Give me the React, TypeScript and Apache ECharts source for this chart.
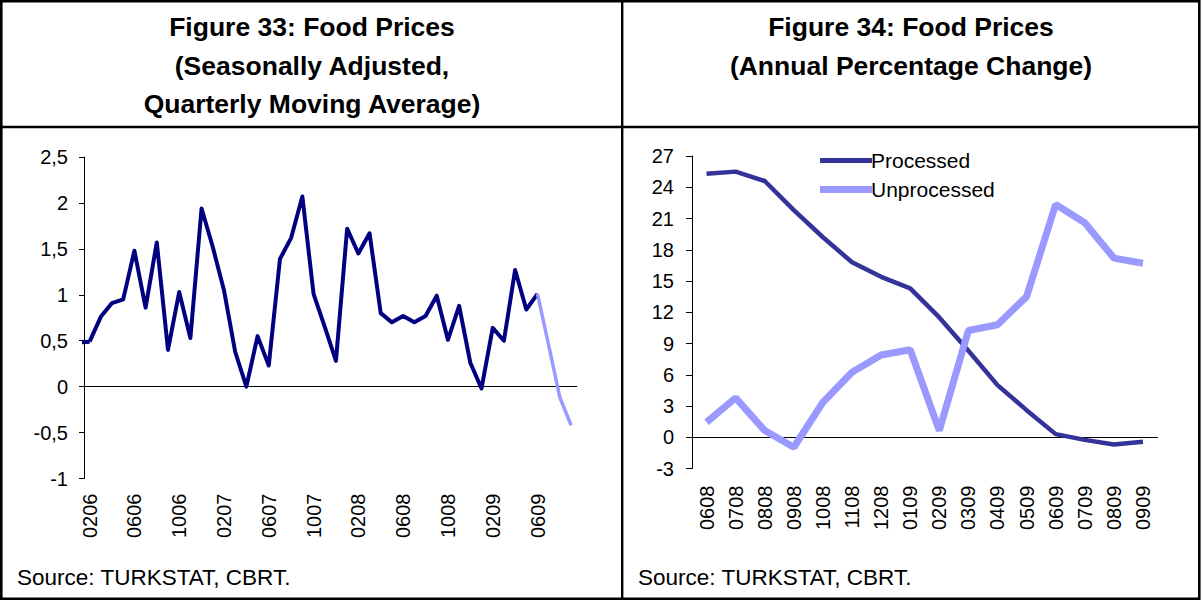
import React, { useEffect, useRef } from "react";
import * as echarts from "echarts";

// ---------- Figure 33 data ----------
const monthLabels = [
  "0206", "0306", "0406", "0506", "0606", "0706", "0806", "0906", "1006", "1106", "1206",
  "0107", "0207", "0307", "0407", "0507", "0607", "0707", "0807", "0907", "1007", "1107", "1207",
  "0108", "0208", "0308", "0408", "0508", "0608", "0708", "0808", "0908", "1008", "1108", "1208",
  "0109", "0209", "0309", "0409", "0509", "0609", "0709", "0809", "0909",
];
// value of the month before the first category (drawn left of the axis, as in the source)
const leadInValue = 0.48;
const seasonallyAdjusted = [
  0.49, 0.76, 0.91, 0.95, 1.48, 0.86, 1.57, 0.40, 1.03, 0.53, 1.94,
  1.52, 1.05, 0.38, 0.0, 0.55, 0.23, 1.39, 1.62, 2.07, 1.01, 0.65, 0.28,
  1.72, 1.45, 1.67, 0.80, 0.70, 0.77, 0.70, 0.77, 0.99, 0.51, 0.88, 0.26,
  -0.02, 0.64, 0.50, 1.27, 0.84, 1.01,
];
const projection = [1.01, 0.45, -0.12, -0.42]; // from 0609 to 0909

// ---------- Figure 34 data ----------
const annualLabels = [
  "0608", "0708", "0808", "0908", "1008", "1108", "1208", "0109",
  "0209", "0309", "0409", "0509", "0609", "0709", "0809", "0909",
];
const processed = [25.3, 25.5, 24.6, 21.8, 19.2, 16.8, 15.4, 14.3, 11.5, 8.3, 5.0, 2.6, 0.3, -0.25, -0.7, -0.43];
const unprocessed = [1.44, 3.78, 0.64, -0.96, 3.36, 6.24, 7.9, 8.4, 0.64, 10.25, 10.8, 13.5, 22.35, 20.6, 17.2, 16.7];

const FONT = "'Liberation Sans', Arial, Helvetica, sans-serif";
const comma = (v: number) => String(v).replace(".", ",");
const comma2 = (v: number) => v.toFixed(2).replace(".", ",");

export default function App() {
  const ref = useRef<HTMLDivElement>(null);

  useEffect(() => {
    if (!ref.current) return;
    const chart = echarts.init(ref.current, undefined, { renderer: "svg" });

    const lightStart = seasonallyAdjusted.length - 1;
    const projData = monthLabels.map((_, i) =>
      i >= lightStart && i - lightStart < projection.length ? projection[i - lightStart] : null
    );

    const lastIdx = annualLabels.length - 1;
    const processedData = processed.map((v, i) =>
      i === lastIdx
        ? { value: v, label: { show: true, position: "bottom", distance: 13, formatter: () => comma2(v) } }
        : v
    );
    const unprocessedData = unprocessed.map((v, i) =>
      i === lastIdx
        ? { value: v, label: { show: true, position: "top", distance: 17, formatter: () => comma2(v) } }
        : v
    );

    const labelStyle = { color: "#000", fontFamily: FONT, fontSize: 20 };
    const legendText = { color: "#000", fontFamily: FONT, fontSize: 21, padding: [0, 0, 0, -6] };

    const option: any = {
      animation: false,
      backgroundColor: "#fff",
      textStyle: { fontFamily: FONT },
      grid: [
        { left: 84, top: 157, width: 492.7, height: 321.5, containLabel: false },
        { left: 692, top: 156, width: 465.5, height: 312.5, containLabel: false },
      ],
      legend: [
        {
          left: 815, top: 145, itemWidth: 52, itemHeight: 5, icon: "rect",
          data: [{ name: "Processed", icon: "rect" }],
          textStyle: legendText,
        },
        {
          left: 815, top: 174, itemWidth: 52, itemHeight: 7, icon: "rect",
          data: [{ name: "Unprocessed", icon: "rect" }],
          textStyle: legendText,
        },
      ],
      xAxis: [
        {
          type: "category", gridIndex: 0, data: monthLabels, boundaryGap: true,
          axisLine: { onZero: true, lineStyle: { color: "#000", width: 1 } },
          axisTick: { interval: 3, length: 5, lineStyle: { color: "#000" } },
          axisLabel: { show: false },
        },
        {
          type: "category", gridIndex: 0, data: monthLabels, boundaryGap: true, position: "bottom",
          axisLine: { show: false, onZero: false }, axisTick: { show: false },
          axisLabel: { ...labelStyle, interval: 3, rotate: 90, margin: 15 },
        },
        { type: "value", gridIndex: 0, min: 0, max: 44, show: false, position: "top" },
        {
          type: "category", gridIndex: 1, data: annualLabels, boundaryGap: true,
          axisLine: { onZero: true, lineStyle: { color: "#000", width: 1 } },
          axisTick: { interval: 0, length: 5, lineStyle: { color: "#000" } },
          axisLabel: { show: false },
        },
        {
          type: "category", gridIndex: 1, data: annualLabels, boundaryGap: true, position: "bottom",
          axisLine: { show: false, onZero: false }, axisTick: { show: false },
          axisLabel: { ...labelStyle, interval: 0, rotate: 90, margin: 17 },
        },
      ],
      yAxis: [
        {
          type: "value", gridIndex: 0, min: -1, max: 2.5, interval: 0.5,
          axisLine: { show: true, onZero: false, lineStyle: { color: "#000", width: 1 } },
          axisTick: { show: true, length: 5, lineStyle: { color: "#000" } },
          splitLine: { show: false },
          axisLabel: { ...labelStyle, margin: 16, formatter: (v: number) => comma(v) },
        },
        {
          type: "value", gridIndex: 1, min: -3, max: 27, interval: 3,
          axisLine: { show: true, onZero: false, lineStyle: { color: "#000", width: 1 } },
          axisTick: { show: true, length: 6, lineStyle: { color: "#000" } },
          splitLine: { show: false },
          axisLabel: { ...labelStyle, margin: 18 },
        },
      ],
      series: [
        {
          name: "leadIn", type: "line", xAxisIndex: 2, yAxisIndex: 0, clip: false,
          data: [[-0.5, leadInValue], [0.5, seasonallyAdjusted[0]]],
          showSymbol: false, symbol: "none",
          lineStyle: { color: "#000080", width: 4 }, silent: true,
        },
        {
          name: "SA", type: "line", xAxisIndex: 0, yAxisIndex: 0,
          data: seasonallyAdjusted, symbol: "none",
          lineStyle: { color: "#000080", width: 4, join: "round" },
        },
        {
          name: "Projection", type: "line", xAxisIndex: 0, yAxisIndex: 0,
          data: projData, symbol: "none", connectNulls: false,
          lineStyle: { color: "#9999FF", width: 3.5 },
        },
        {
          name: "Processed", type: "line", xAxisIndex: 3, yAxisIndex: 1,
          data: processedData, symbol: "none", color: "#333399",
          itemStyle: { color: "#333399" },
          lineStyle: { color: "#333399", width: 4.5 },
          label: { color: "#000", fontFamily: FONT, fontSize: 20.5 },
        },
        {
          name: "Unprocessed", type: "line", xAxisIndex: 3, yAxisIndex: 1,
          data: unprocessedData, symbol: "none", color: "#9999FF",
          itemStyle: { color: "#9999FF" },
          lineStyle: { color: "#9999FF", width: 7 },
          label: { color: "#000", fontFamily: FONT, fontSize: 20.5 },
        },
      ],
      graphic: [
        // frame
        { type: "rect", shape: { x: 1.3, y: 1.3, width: 1198, height: 597.4 }, style: { fill: "none", stroke: "#000", lineWidth: 2.6 }, silent: true },
        { type: "line", shape: { x1: 1, y1: 127, x2: 1200, y2: 127 }, style: { stroke: "#000", lineWidth: 2.4 }, silent: true },
        { type: "line", shape: { x1: 622.2, y1: 1, x2: 622.2, y2: 600 }, style: { stroke: "#000", lineWidth: 2.4 }, silent: true },
        // titles
        ...[
          ["Figure 33: Food Prices", 312, 27],
          ["(Seasonally Adjusted,", 312, 66],
          ["Quarterly Moving Average)", 312, 104],
          ["Figure 34: Food Prices", 911, 27],
          ["(Annual Percentage Change)", 911, 66],
        ].map(([t, x, y]) => ({
          type: "text", x, y, silent: true,
          style: { text: t, fontFamily: FONT, fontSize: 26.5, fontWeight: "bold", fill: "#000", align: "center", verticalAlign: "middle" },
        })),
        // sources
        ...[
          ["Source: TURKSTAT, CBRT.", 17],
          ["Source: TURKSTAT, CBRT.", 638],
        ].map(([t, x]) => ({
          type: "text", x, y: 577, silent: true,
          style: { text: t, fontFamily: FONT, fontSize: 22.5, fill: "#000", align: "left", verticalAlign: "middle" },
        })),
      ],
    };

    chart.setOption(option);
    return () => chart.dispose();
  }, []);

  return (
    <div
      ref={ref}
      style={{ position: "fixed", left: 0, top: 0, width: 1203, height: 601, background: "#fff" }}
    />
  );
}
